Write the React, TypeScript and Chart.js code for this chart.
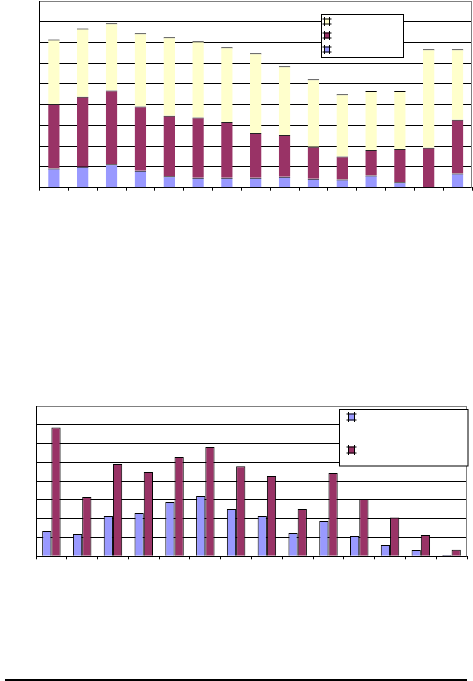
import React, { useEffect, useRef } from "react";
import { Chart, registerables } from "chart.js";

Chart.register(...registerables);

// ---- Top chart (stacked) ----
const topCategories = ["1", "2", "3", "4", "5", "6", "7", "8", "9", "10", "11", "12", "13", "14", "15"];
const topBlue = [0.93, 1.01, 1.13, 0.82, 0.55, 0.48, 0.48, 0.48, 0.53, 0.43, 0.4, 0.59, 0.26, 0, 0.69];
const topMaroon = [3.11, 3.38, 3.55, 3.09, 2.92, 2.9, 2.69, 2.16, 2.01, 1.55, 1.1, 1.23, 1.6, 1.93, 2.59];
const topYellow = [3.11, 3.29, 3.25, 3.53, 3.78, 3.68, 3.6, 3.84, 3.31, 3.25, 3.0, 2.84, 2.8, 4.74, 3.39];
const topMax = 9;

// ---- Bottom chart (grouped) ----
const bottomCategories = ["1", "2", "3", "4", "5", "6", "7", "8", "9", "10", "11", "12", "13", "14"];
const bottomBlue = [1.35, 1.19, 2.15, 2.3, 2.89, 3.21, 2.52, 2.15, 1.24, 1.88, 1.08, 0.6, 0.34, 0.07];
const bottomMaroon = [6.86, 3.16, 4.91, 4.49, 5.28, 5.82, 4.79, 4.27, 2.52, 4.43, 3.05, 2.07, 1.13, 0.35];
const bottomMax = 8;

const BLUE = "#9999FF";
const MAROON = "#993366";
const YELLOW = "#FFFFCC";

type LegendCfg = {
  box: [number, number, number, number];
  keys: { x: number; y: number; color: string }[];
  size: number;
};

const frameLegendPlugin = {
  id: "frameLegend",
  afterDraw(chart: any, _args: any, opts: any) {
    const ctx = chart.ctx;
    const a = chart.chartArea;
    ctx.save();
    // right plot border
    ctx.strokeStyle = "#808080";
    ctx.lineWidth = 1;
    ctx.beginPath();
    const rx = Math.round(a.right) - 0.5;
    ctx.moveTo(rx, a.top);
    ctx.lineTo(rx, a.bottom);
    ctx.stroke();
    const lg: LegendCfg | undefined = opts && opts.legend;
    if (lg) {
      const [x0, y0, x1, y1] = lg.box;
      ctx.fillStyle = "#fff";
      ctx.fillRect(x0, y0, x1 - x0, y1 - y0);
      ctx.strokeStyle = "#000";
      ctx.strokeRect(x0, y0, x1 - x0, y1 - y0);
      const s = lg.size;
      lg.keys.forEach((k) => {
        ctx.fillStyle = k.color;
        ctx.fillRect(k.x, k.y, s, s);
        ctx.strokeStyle = "#000";
        ctx.beginPath();
        ctx.moveTo(k.x - 1.5, k.y + 0.5);
        ctx.lineTo(k.x + s + 1.5, k.y + 0.5);
        ctx.moveTo(k.x - 1.5, k.y + s - 0.5);
        ctx.lineTo(k.x + s + 1.5, k.y + s - 0.5);
        ctx.moveTo(k.x + 0.5, k.y - 1.5);
        ctx.lineTo(k.x + 0.5, k.y + s + 1.5);
        ctx.moveTo(k.x + s - 0.5, k.y - 1.5);
        ctx.lineTo(k.x + s - 0.5, k.y + s + 1.5);
        ctx.stroke();
      });
    }
    ctx.restore();
  },
};

function makeScales(max: number, yWidth: number, xHeight: number, stacked: boolean) {
  return {
    x: {
      stacked,
      ticks: { display: false },
      grid: {
        drawOnChartArea: false,
        drawTicks: true,
        tickLength: 3,
        color: "#000",
        offset: true,
      },
      border: { display: true, color: "#000", width: 1 },
      afterFit: (scale: any) => {
        scale.height = xHeight;
      },
    },
    y: {
      stacked,
      min: 0,
      max,
      ticks: { display: false, stepSize: 1 },
      grid: {
        drawTicks: false,
        color: (c: any) => (c.tick && c.tick.value === max ? "#808080" : "#000"),
        lineWidth: 1,
      },
      border: { display: true, color: "#000", width: 1 },
      afterFit: (scale: any) => {
        scale.width = yWidth;
      },
    },
  };
}

function TopChart() {
  const ref = useRef<HTMLCanvasElement>(null);
  useEffect(() => {
    if (!ref.current) return;
    const topBorder = { top: 1, left: 0, right: 0, bottom: 0 };
    const chart = new Chart(ref.current, {
      type: "bar",
      data: {
        labels: topCategories,
        datasets: [
          { label: "", data: topBlue, backgroundColor: BLUE, borderColor: "#000", borderWidth: topBorder, borderSkipped: false },
          { label: "", data: topMaroon, backgroundColor: MAROON, borderColor: "#222", borderWidth: topBorder, borderSkipped: false },
          { label: "", data: topYellow, backgroundColor: YELLOW, borderColor: "#000", borderWidth: topBorder, borderSkipped: false },
        ],
      } as any,
      options: {
        animation: false,
        responsive: false,
        layout: { padding: { top: 1, right: 1, left: 0, bottom: 0 } },
        datasets: { bar: { barPercentage: 0.4, categoryPercentage: 1 } },
        plugins: {
          legend: { display: false },
          tooltip: { enabled: false },
          frameLegend: {
            legend: {
              box: [321.5, 14.5, 403.5, 57.5],
              size: 6,
              keys: [
                { x: 324, y: 18.5, color: YELLOW },
                { x: 324, y: 32.5, color: MAROON },
                { x: 324, y: 46.5, color: BLUE },
              ],
            },
          },
        } as any,
        scales: makeScales(topMax, 39.5, 230 - 187.7, true) as any,
      },
      plugins: [frameLegendPlugin],
    });
    return () => chart.destroy();
  }, []);
  return (
    <div style={{ position: "absolute", left: 0, top: 0, width: 473, height: 230 }}>
      <canvas ref={ref} width={473} height={230} style={{ width: 473, height: 230, display: "block" }} />
    </div>
  );
}

function BottomChart() {
  const ref = useRef<HTMLCanvasElement>(null);
  useEffect(() => {
    if (!ref.current) return;
    const chart = new Chart(ref.current, {
      type: "bar",
      data: {
        labels: bottomCategories,
        datasets: [
          { label: "", data: bottomBlue, backgroundColor: BLUE, borderColor: "#000", borderWidth: 1, borderSkipped: "bottom" },
          { label: "", data: bottomMaroon, backgroundColor: MAROON, borderColor: "#000", borderWidth: 1, borderSkipped: "bottom" },
        ],
      } as any,
      options: {
        animation: false,
        responsive: false,
        layout: { padding: { top: 11, right: 6, left: 0, bottom: 0 } },
        datasets: { bar: { barPercentage: 1, categoryPercentage: 0.6 } },
        plugins: {
          legend: { display: false },
          tooltip: { enabled: false },
          frameLegend: {
            legend: {
              box: [339.5, 14.5, 468, 71],
              size: 7,
              keys: [
                { x: 348, y: 18.5, color: BLUE },
                { x: 348, y: 51.5, color: MAROON },
              ],
            },
          },
        } as any,
        scales: makeScales(bottomMax, 36, 200 - 161.3, false) as any,
      },
      plugins: [frameLegendPlugin],
    });
    return () => chart.destroy();
  }, []);
  return (
    <div style={{ position: "absolute", left: 0, top: 395, width: 473, height: 200 }}>
      <canvas ref={ref} width={473} height={200} style={{ width: 473, height: 200, display: "block" }} />
    </div>
  );
}

export default function App() {
  return (
    <div style={{ position: "absolute", left: 0, top: 0, width: 473, height: 681, background: "#fff" }}>
      <TopChart />
      <BottomChart />
      <div style={{ position: "absolute", left: 5, top: 679, width: 462, height: 1.5, background: "#000" }} />
    </div>
  );
}
